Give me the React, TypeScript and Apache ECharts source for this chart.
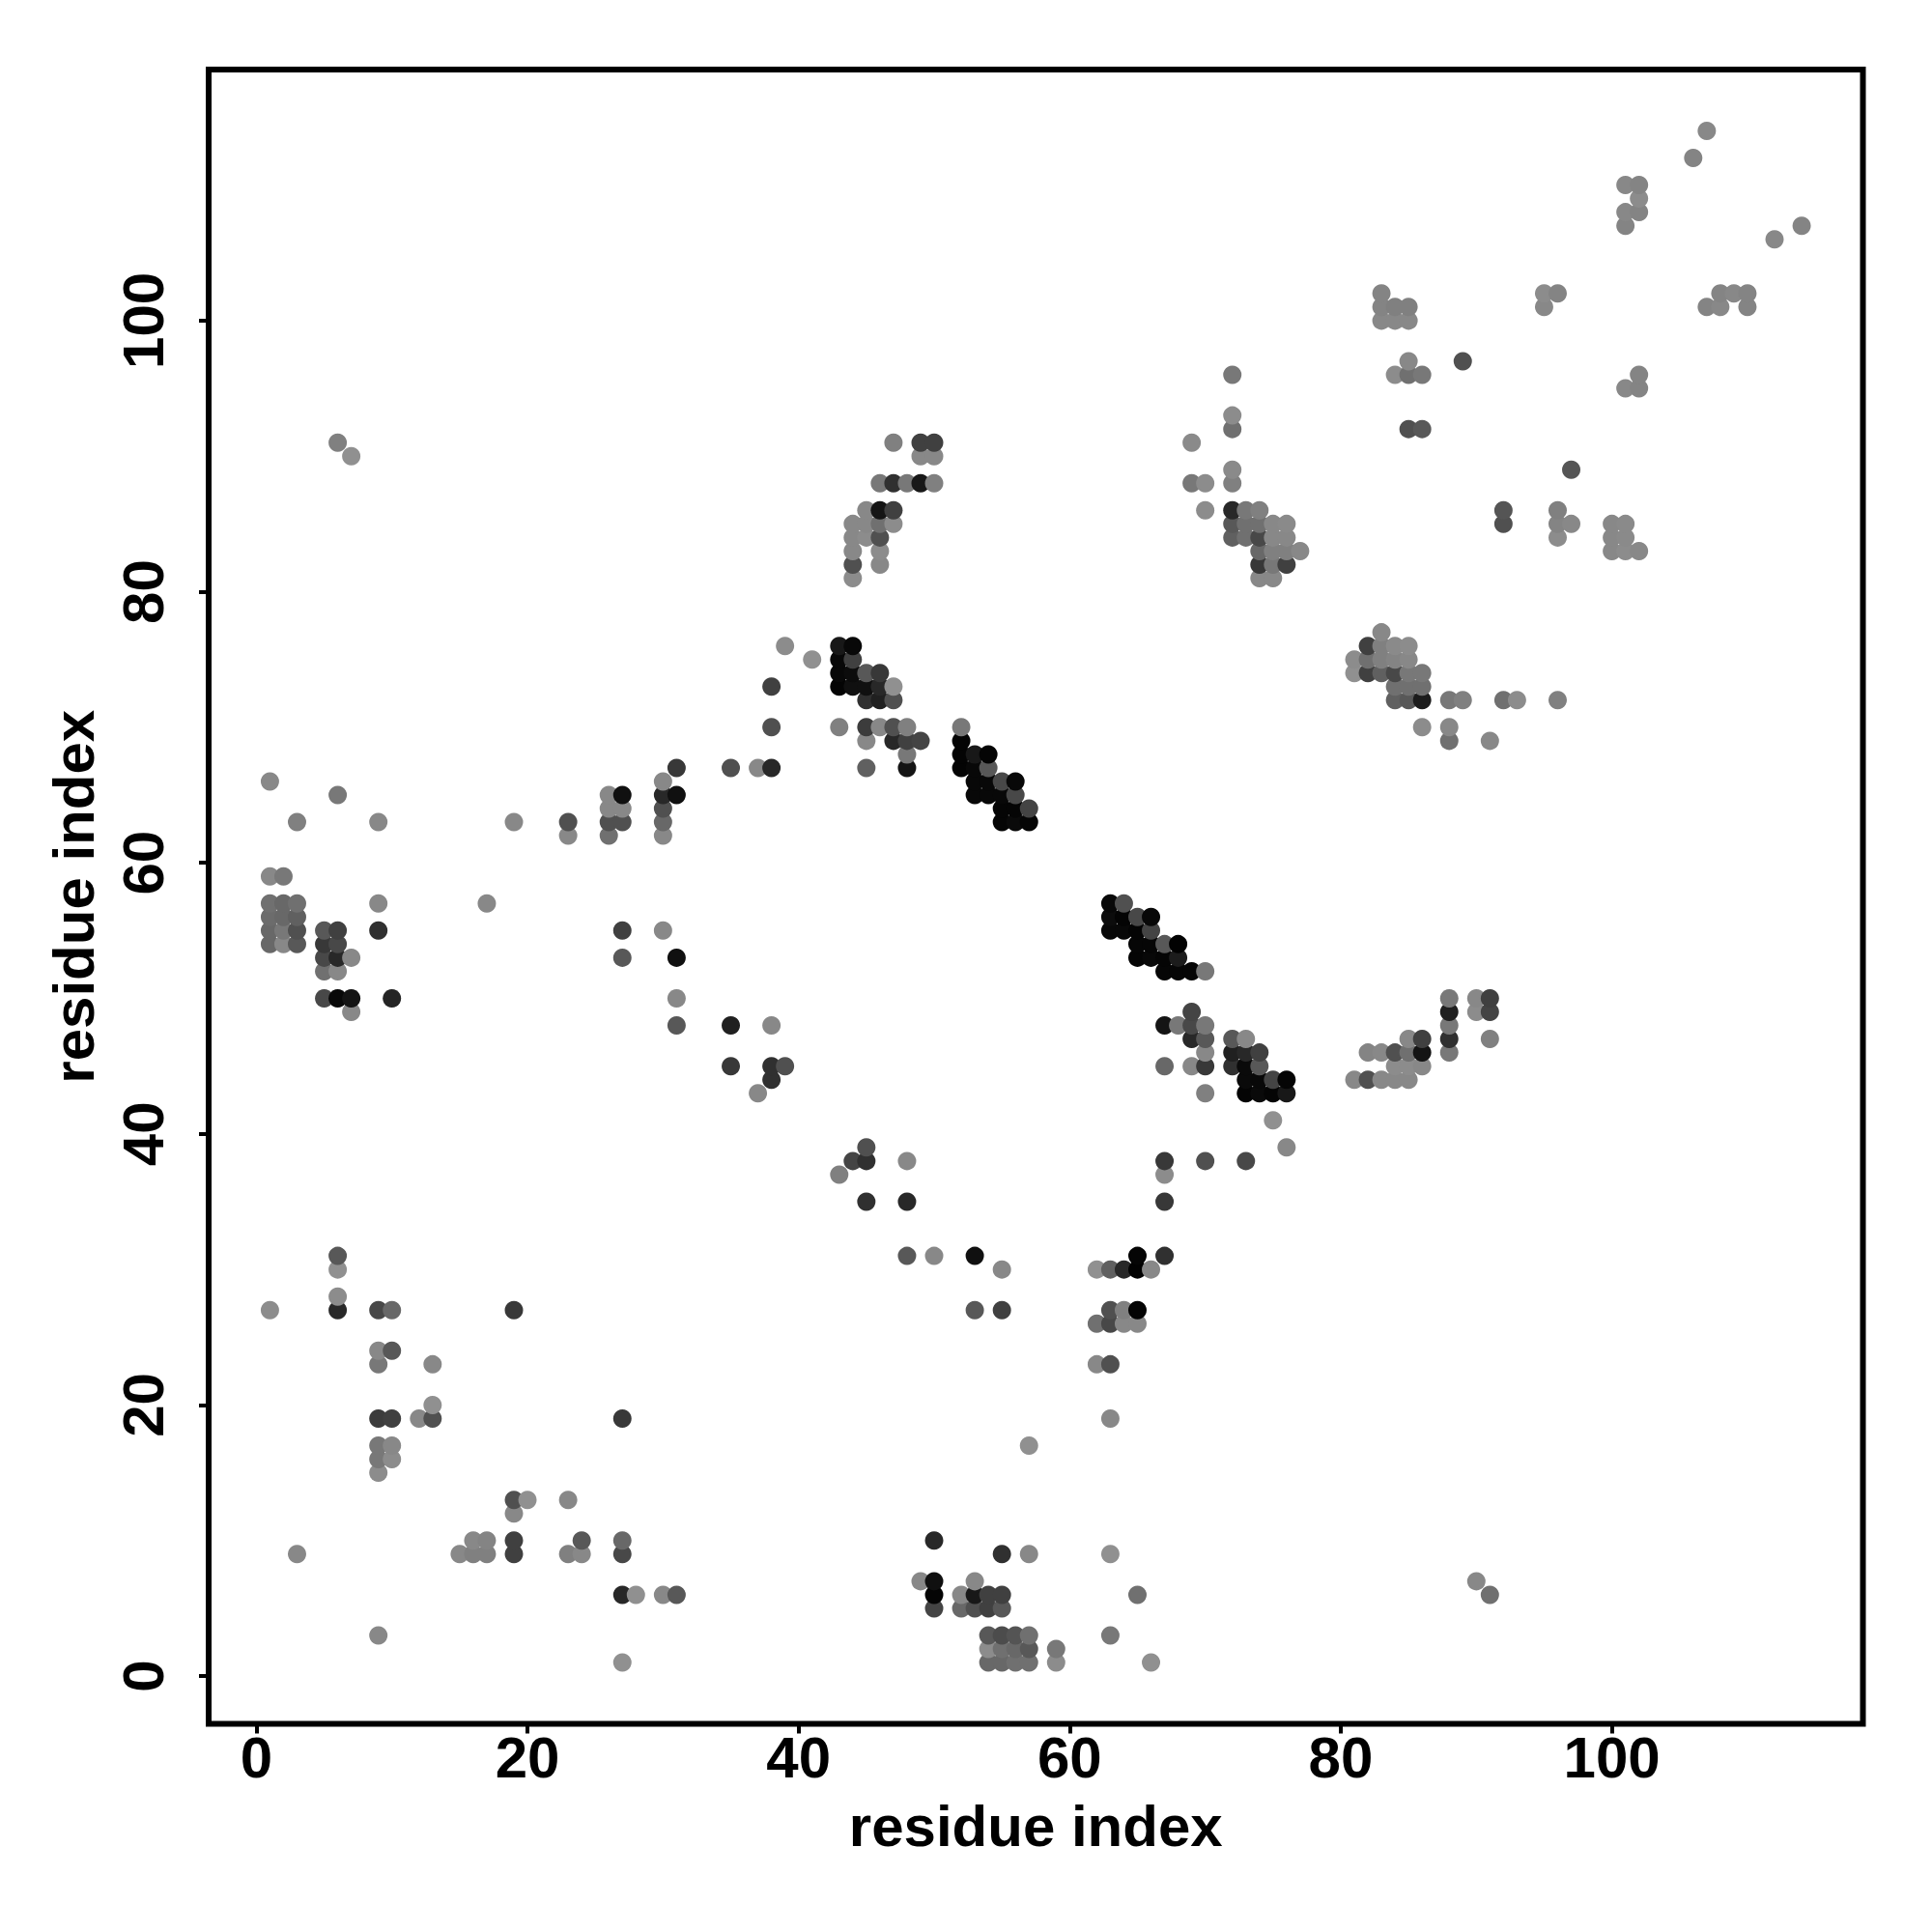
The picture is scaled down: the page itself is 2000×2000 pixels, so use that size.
import React, { useEffect, useRef } from "react";
import * as echarts from "echarts";

type P = [number, number, number];

const axisTitle = "residue index";
const tickValues = [0, 20, 40, 60, 80, 100];
const axisMin = -3.52;
const axisMax = 118.52;

// [residue x, residue y, grey level]
const upperRight: P[] = [
  [107,114,0x88],[106,112,0x84],[114,107,0x84],[112,106,0x88],[101,110,0x88],[102,110,0x84],[102,109,0x8c],[101,108,0x88],[102,108,0x84],[101,107,0x84],
  [95,102,0x8c],[96,102,0x84],[95,101,0x88],[108,102,0x84],[109,102,0x88],[110,102,0x84],[107,101,0x84],[108,101,0x88],[110,101,0x84],
  [102,96,0x84],[101,95,0x88],[102,95,0x84],[89,97,0x50],
  [83,102,0x84],[83,101,0x84],[84,101,0x80],[85,101,0x80],[83,100,0x88],[84,100,0x88],[85,100,0x88],
  [85,97,0x88],[84,96,0x8c],[85,96,0x70],[86,96,0x78],[85,92,0x50],[86,92,0x58],
  [97,89,0x55],[92,86,0x55],[92,85,0x50],[96,86,0x80],[96,85,0x84],[97,85,0x88],[96,84,0x8c],
  [100,85,0x88],[101,85,0x8a],[100,84,0x88],[101,84,0x8a],[100,83,0x88],[101,83,0x8c],[102,83,0x88],
];

const cluster72: P[] = [
  [72,96,0x78],[72,93,0x8c],[72,92,0x70],[69,91,0x8a],[72,89,0x8a],[69,88,0x78],[70,88,0x8c],[72,88,0x80],[70,86,0x8c],
  [72,86,0x28],[73,86,0x78],[74,86,0x80],[72,85,0x58],[73,85,0x70],[74,85,0x70],[75,85,0x88],[76,85,0x8a],
  [72,84,0x60],[73,84,0x70],[74,84,0x48],[75,84,0x88],[76,84,0x88],[74,83,0x68],[75,83,0x80],[76,83,0x80],[77,83,0x88],
  [74,82,0x38],[75,82,0x78],[76,82,0x40],[74,81,0x88],[75,81,0x88],
];

const cluster44: P[] = [
  [47,91,0x80],[49,91,0x40],[50,91,0x40],[49,90,0x88],[50,90,0x88],[46,88,0x78],[47,88,0x30],[48,88,0x78],[49,88,0x18],[50,88,0x80],
  [45,86,0x88],[46,86,0x15],[47,86,0x40],[44,85,0x88],[45,85,0x88],[46,85,0x70],[47,85,0x8c],[44,84,0x88],[45,84,0x8c],[46,84,0x50],
  [44,83,0x88],[46,83,0x8c],[44,82,0x50],[46,82,0x88],[44,81,0x8c],
];

const band43: P[] = [
  [39,76,0x8c],[41,75,0x90],[43,76,0x18],[44,76,0x08],[43,75,0x08],[44,75,0x40],[43,74,0x08],[44,74,0x0c],[45,74,0x58],[46,74,0x38],
  [43,73,0x04],[44,73,0x10],[45,73,0x10],[46,73,0x28],[47,73,0x90],[45,72,0x30],[46,72,0x20],[47,72,0x50],
  [43,70,0x80],[45,70,0x3c],[46,70,0x88],[47,70,0x50],[48,70,0x80],[45,69,0x88],[47,69,0x28],[48,69,0x40],[49,69,0x44],
  [48,68,0x78],[45,67,0x60],[48,67,0x14],
];

const band52: P[] = [
  [52,70,0x78],[52,69,0x04],[52,68,0x04],[53,68,0x18],[54,68,0x04],[52,67,0x04],[53,67,0x08],[54,67,0x58],
  [53,66,0x08],[54,66,0x08],[55,66,0x48],[56,66,0x08],[53,65,0x08],[54,65,0x08],[55,65,0x08],[56,65,0x48],
  [55,64,0x05],[56,64,0x05],[57,64,0x44],[55,63,0x05],[56,63,0x0a],[57,63,0x05],
];

const row62: P[] = [
  [1,66,0x88],[6,65,0x78],[3,63,0x80],[9,63,0x88],[19,63,0x88],[23,63,0x50],[23,62,0x88],
  [26,65,0x88],[27,65,0x10],[26,64,0x88],[27,64,0x88],[26,63,0x50],[27,63,0x50],[26,62,0x70],
  [30,66,0x88],[31,67,0x38],[30,65,0x28],[31,65,0x10],[30,64,0x50],[30,63,0x68],[30,62,0x88],
  [35,67,0x50],[37,67,0x88],[38,67,0x28],[38,70,0x50],[38,73,0x40],
];

const leftBlock: P[] = [
  [1,59,0x88],[2,59,0x78],[1,57,0x70],[2,57,0x68],[3,57,0x70],[1,56,0x6c],[2,56,0x68],[3,56,0x60],[1,55,0x68],[2,55,0x78],[3,55,0x50],
  [1,54,0x68],[2,54,0x88],[3,54,0x58],[5,55,0x58],[6,55,0x40],[9,57,0x88],[9,55,0x30],[5,54,0x38],[6,54,0x48],[5,53,0x48],[6,53,0x28],[7,53,0x88],
  [5,52,0x70],[6,52,0x88],[5,50,0x48],[6,50,0x08],[7,50,0x14],[10,50,0x24],[7,49,0x88],[17,57,0x88],
  [6,91,0x80],[7,90,0x90],
];

const diagonalMid: P[] = [
  [27,55,0x40],[30,55,0x88],[27,53,0x58],[31,53,0x10],[31,50,0x88],[31,48,0x58],[35,48,0x20],[38,48,0x88],[35,45,0x38],[38,45,0x30],[39,45,0x50],
  [38,44,0x30],[37,43,0x88],[43,37,0x80],[44,38,0x44],[45,39,0x50],[45,38,0x30],[45,35,0x30],[48,38,0x88],[48,35,0x28],[48,31,0x58],[50,31,0x88],
  [53,31,0x10],[55,30,0x88],[53,27,0x58],[55,27,0x40],
];

const band63: P[] = [
  [63,57,0x08],[64,57,0x50],[63,56,0x0c],[64,56,0x04],[65,56,0x48],[66,56,0x08],[63,55,0x08],[64,55,0x08],[65,55,0x04],[66,55,0x44],
  [65,54,0x06],[66,54,0x06],[67,54,0x58],[68,54,0x02],[65,53,0x05],[66,53,0x08],[67,53,0x05],[68,53,0x1c],[67,52,0x06],[68,52,0x06],[69,52,0x06],[70,52,0x78],
  [69,49,0x44],[67,48,0x14],[68,48,0x78],[69,48,0x48],[70,48,0x78],[69,47,0x28],[70,47,0x58],[70,46,0x88],[67,45,0x68],[69,45,0x88],[70,45,0x38],[70,43,0x80],
  [72,47,0x58],[73,47,0x88],[72,46,0x20],[73,46,0x28],[74,46,0x40],[72,45,0x30],[73,45,0x0a],[74,45,0x58],[73,44,0x0a],[74,44,0x08],[75,44,0x44],[76,44,0x05],
  [73,43,0x04],[74,43,0x0a],[75,43,0x05],[76,43,0x18],[75,41,0x90],[76,39,0x88],
];

const cluster81low: P[] = [
  [88,50,0x78],[90,50,0x88],[91,50,0x40],[88,49,0x20],[90,49,0x8c],[91,49,0x44],[88,48,0x78],[85,47,0x88],[86,47,0x40],[88,47,0x30],[91,47,0x80],
  [82,46,0x84],[83,46,0x88],[84,46,0x50],[85,46,0x70],[86,46,0x14],[88,46,0x78],[84,45,0x8c],[85,45,0x8c],[86,45,0x88],
  [81,44,0x88],[82,44,0x50],[83,44,0x88],[84,44,0x88],[85,44,0x88],
];

const cluster81high: P[] = [
  [83,77,0x88],[82,76,0x40],[83,76,0x80],[84,76,0x8a],[85,76,0x8c],[81,75,0x8c],[82,75,0x70],[83,75,0x80],[84,75,0x84],[85,75,0x88],
  [81,74,0x90],[82,74,0x40],[83,74,0x60],[84,74,0x48],[85,74,0x78],[86,74,0x78],[84,73,0x70],[85,73,0x70],[86,73,0x70],
  [84,72,0x60],[85,72,0x58],[86,72,0x1c],[88,72,0x78],[89,72,0x80],[92,72,0x70],[93,72,0x8c],[96,72,0x80],[86,70,0x8c],[88,70,0x88],[88,69,0x70],[91,69,0x88],
];

const cluster62: P[] = [
  [67,38,0x38],[70,38,0x50],[73,38,0x48],[67,37,0x8c],[67,35,0x38],[67,31,0x30],[65,31,0x05],[62,30,0x90],[63,30,0x60],[64,30,0x28],[65,30,0x02],[66,30,0x88],
  [63,27,0x50],[64,27,0x80],[65,27,0x04],[62,26,0x70],[63,26,0x48],[64,26,0x88],[65,26,0x88],[62,23,0x88],[63,23,0x50],[63,19,0x88],[57,17,0x90],
];

const bottomMid: P[] = [
  [50,10,0x28],[55,9,0x30],[57,9,0x88],[63,9,0x90],[49,7,0x88],[50,7,0x10],[53,7,0x88],[50,6,0x05],[52,6,0x88],[53,6,0x18],[54,6,0x40],[55,6,0x40],[65,6,0x70],
  [50,5,0x44],[52,5,0x68],[53,5,0x50],[54,5,0x40],[55,5,0x58],[54,3,0x58],[55,3,0x4c],[56,3,0x54],[57,3,0x70],[63,3,0x78],
  [54,2,0x8c],[55,2,0x70],[56,2,0x68],[57,2,0x58],[59,2,0x78],[54,1,0x68],[55,1,0x68],[56,1,0x70],[57,1,0x70],[59,1,0x8c],[66,1,0x90],
  [90,7,0x88],[91,6,0x70],
];

const bottomLeft: P[] = [
  [6,31,0x58],[6,30,0x90],[6,28,0x8c],[1,27,0x8c],[6,27,0x28],[9,27,0x48],[10,27,0x68],[19,27,0x38],[9,24,0x88],[10,24,0x58],[9,23,0x78],[13,23,0x88],
  [13,20,0x90],[12,19,0x88],[13,19,0x50],[9,19,0x3c],[10,19,0x40],[27,19,0x38],[9,17,0x78],[10,17,0x88],[9,16,0x78],[10,16,0x8c],[9,15,0x8c],
  [19,13,0x50],[20,13,0x90],[23,13,0x88],[19,12,0x88],[16,10,0x88],[17,10,0x84],[19,10,0x40],[24,10,0x58],[27,10,0x68],
  [3,9,0x88],[15,9,0x88],[16,9,0x80],[17,9,0x80],[19,9,0x40],[23,9,0x80],[24,9,0x88],[27,9,0x48],
  [27,6,0x28],[28,6,0x90],[30,6,0x88],[31,6,0x58],[9,3,0x88],[27,1,0x90],
];

const contacts: P[] = [
  ...upperRight, ...cluster72, ...cluster44, ...band43, ...band52, ...row62, ...leftBlock, ...diagonalMid,
  ...band63, ...cluster81low, ...cluster81high, ...cluster62, ...bottomMid, ...bottomLeft,
].sort((a, b) => a[0] - b[0] || a[1] - b[1]);

const fontFamily = "Liberation Sans";

function axis(rotate: number, labelMargin: number, nameGap: number) {
  return {
    type: "value" as const,
    min: axisMin,
    max: axisMax,
    name: axisTitle,
    nameLocation: "middle" as const,
    nameGap,
    nameTextStyle: { fontFamily, fontSize: 60, fontWeight: "bold" as const, color: "#000" },
    splitLine: { show: false },
    axisLine: { show: false, onZero: false },
    axisTick: { show: true, length: 10, lineStyle: { color: "#000", width: 4 }, customValues: tickValues },
    axisLabel: {
      show: true,
      rotate,
      margin: labelMargin,
      fontFamily,
      fontSize: 60,
      fontWeight: "bold" as const,
      color: "#000",
      customValues: tickValues,
      formatter: (v: number) => String(v),
    },
  };
}

export default function App() {
  const ref = useRef<HTMLDivElement>(null);
  useEffect(() => {
    document.body.style.margin = "0";
    const chart = echarts.init(ref.current!, null, { renderer: "svg" });
    chart.setOption({
      animation: false,
      backgroundColor: "#fff",
      grid: { left: 216, top: 72, width: 1712.5, height: 1712.5, show: true, borderColor: "#000", borderWidth: 6, backgroundColor: "transparent" },
      xAxis: axis(0, 5, 76),
      yAxis: axis(90, 38, 110),
      series: [
        {
          type: "scatter",
          data: contacts,
          encode: { x: 0, y: 1 },
          symbol: "circle",
          symbolSize: 19,
          clip: false,
          itemStyle: {
            opacity: 1,
            color: (p: any) => {
              const g = p.data[2];
              return `rgb(${g},${g},${g})`;
            },
          },
        },
      ],
    });
    return () => chart.dispose();
  }, []);
  return <div ref={ref} style={{ position: "absolute", left: 0, top: 0, width: 2000, height: 2000 }} />;
}
